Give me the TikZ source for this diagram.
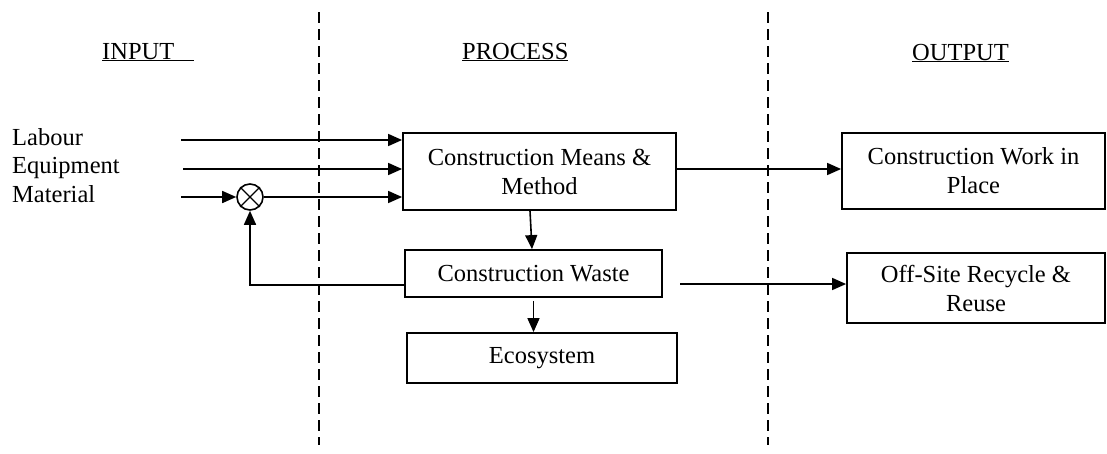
\documentclass[tikz,border=0pt]{standalone}
\usepackage{fontspec}
\setmainfont{Liberation Serif}
\usetikzlibrary{arrows.meta, positioning, calc}

\begin{document}
\begin{tikzpicture}[x=1pt, y=-1pt,
  font=\fontsize{24.5}{29}\selectfont,
  block/.style={draw, line width=1.8pt, inner sep=0pt, align=center},
  arrow/.style={-{Triangle[length=14pt, width=12pt]}, line width=1.6pt},
  divider/.style={line width=2.2pt, dash pattern=on 11pt off 6pt},
  label/.style={anchor=base west, inner sep=0pt}
]
  \useasboundingbox (0,0) rectangle (1107,453);

  % column headings
  \node[label] (hin) at (102,59) {\underline{INPUT\hspace{20pt}}};
  \node[label] (hproc) at (462,59) {\underline{PROCESS}};
  \node[label] (hout) at (912,60) {\underline{OUTPUT}};
  \draw[divider] (319,12) -- (319,445);
  \draw[divider] (768,12) -- (768,445);

  % inputs
  \node[label] (labour) at (12,145) {Labour};
  \node[label] (equip) at (12,173.5) {Equipment};
  \node[label] (mat) at (12,202) {Material};
  \coordinate (labin) at (181,140);
  \coordinate (eqin) at (183,169);
  \coordinate (matin) at (181,197);
  \node[draw, circle, line width=1.6pt, minimum size=26pt, inner sep=0pt] (mix) at (250,197) {};
  \draw[line width=1.4pt] (mix.north west) -- (mix.south east) (mix.north east) -- (mix.south west);

  % process
  \node[block, minimum width=273pt, minimum height=77pt] (means) at (539.5,171.5) {Construction Means \&\\Method};
  \node[block, minimum width=257pt, minimum height=47pt] (waste) at (533.5,273.5) {Construction Waste};
  \node[block, minimum width=270pt, minimum height=50pt] (eco) at (542,358) {Ecosystem};

  % outputs
  \node[block, minimum width=263pt, minimum height=76pt] (work) at (973.5,171) {Construction Work in\\Place};
  \node[block, minimum width=258pt, minimum height=70pt] (offsite) at (976,288) {Off-Site Recycle \&\\Reuse};
  \coordinate (wasteout) at (680,284);

  \draw[arrow] (labin) -- (labin -| means.west);
  \draw[arrow] (eqin) -- (eqin -| means.west);
  \draw[arrow] (matin) -- (mix);
  \draw[arrow] (mix) -- (mix -| means.west);
  \draw[arrow] ([yshift=2.5pt]means.east) -- ([yshift=2pt]work.west);
  \draw[arrow] ([xshift=-9.5pt]means.south) -- ([xshift=-1.5pt]waste.north);
  \draw[arrow] ([yshift=-3pt]waste.south) -- (waste.south |- eco.north);
  \draw[arrow] ([yshift=-11.5pt]waste.west) -| (mix.south);
  \draw[arrow] (wasteout) -- (wasteout -| offsite.west);
\end{tikzpicture}
\end{document}
